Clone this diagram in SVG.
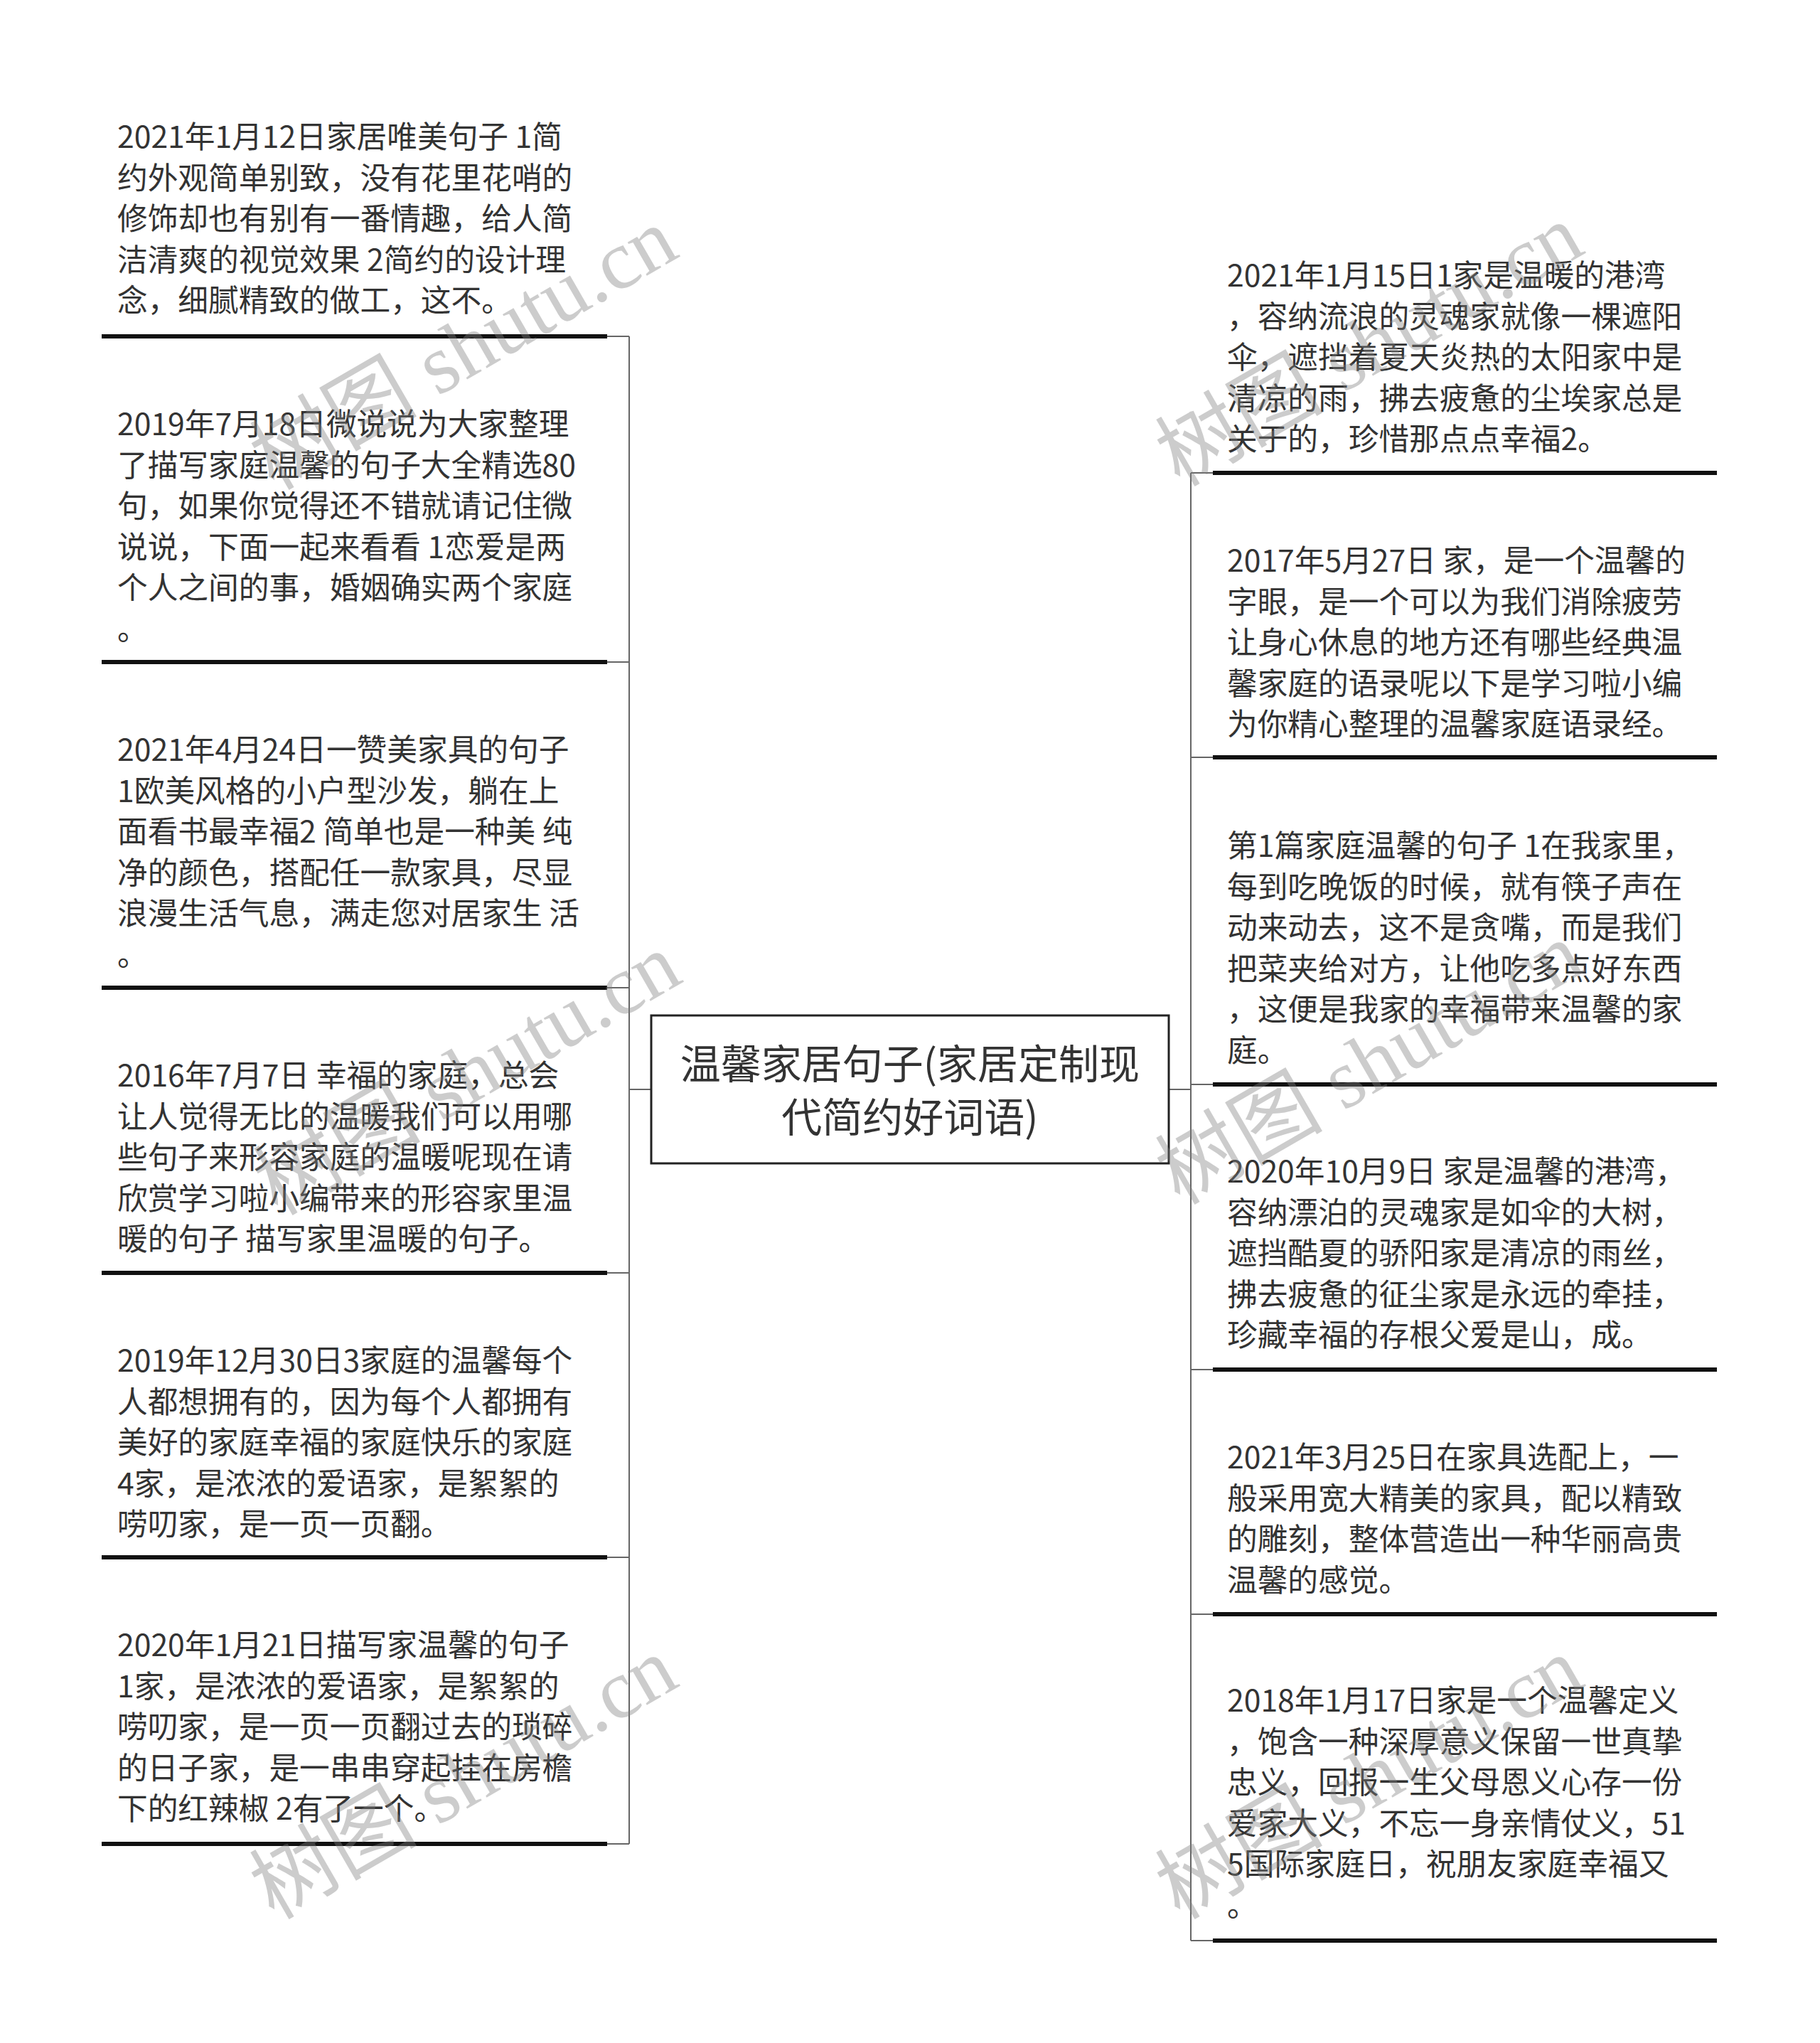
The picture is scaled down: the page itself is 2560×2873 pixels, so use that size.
<svg xmlns="http://www.w3.org/2000/svg" width="2560" height="2873" viewBox="0 0 2560 2873">
<style>
.t{font-family:"Noto Sans CJK SC","Noto Sans",sans-serif;font-size:42.7px;fill:#333}
.c{font-family:"Noto Sans CJK SC","Noto Sans",sans-serif;font-size:57px;fill:#333;text-anchor:middle}
.ul{stroke:#111;stroke-width:6;fill:none}
.ln{stroke:#666;stroke-width:2;fill:none}
.wm{font-family:"Liberation Serif","Noto Sans CJK SC",serif;font-size:118px;fill:#808080;fill-opacity:0.4;text-anchor:middle}
</style>
<rect width="2560" height="2873" fill="#fff"/>
<g id="connectors">
<path class="ln" d="M885 473V2593M854 473H885M854 931H885M854 1389H885M854 1790H885M854 2190H885M854 2593H885M885 1532H916"/>
<path class="ln" d="M1675 665V2729M1675 665H1706M1675 1065H1706M1675 1525H1706M1675 1926H1706M1675 2270H1706M1675 2729H1706M1644 1532H1675"/>
</g>
<g id="center">
<rect x="916" y="1428" width="728" height="208" fill="#fff" stroke="#222" stroke-width="3"/>
<text class="c" x="1280" y="1517">温馨家居句子(家居定制现</text>
<text class="c" x="1280" y="1592">代简约好词语)</text>
</g>
<g id="L1">
<text class="t" x="165" y="208"><tspan x="165">2021年1月12日家居唯美句子 1简</tspan><tspan x="165" dy="57.5">约外观简单别致，没有花里花哨的</tspan><tspan x="165" dy="57.5">修饰却也有别有一番情趣，给人简</tspan><tspan x="165" dy="57.5">洁清爽的视觉效果 2简约的设计理</tspan><tspan x="165" dy="57.5">念，细腻精致的做工，这不。</tspan></text>
<line class="ul" x1="143" y1="473" x2="854" y2="473"/>
</g>
<g id="L2">
<text class="t" x="165" y="612"><tspan x="165">2019年7月18日微说说为大家整理</tspan><tspan x="165" dy="57.5">了描写家庭温馨的句子大全精选80</tspan><tspan x="165" dy="57.5">句，如果你觉得还不错就请记住微</tspan><tspan x="165" dy="57.5">说说，下面一起来看看 1恋爱是两</tspan><tspan x="165" dy="57.5">个人之间的事，婚姻确实两个家庭</tspan><tspan x="165" dy="57.5">。</tspan></text>
<line class="ul" x1="143" y1="931" x2="854" y2="931"/>
</g>
<g id="L3">
<text class="t" x="165" y="1070"><tspan x="165">2021年4月24日一赞美家具的句子</tspan><tspan x="165" dy="57.5">1欧美风格的小户型沙发，躺在上</tspan><tspan x="165" dy="57.5">面看书最幸福2 简单也是一种美 纯</tspan><tspan x="165" dy="57.5">净的颜色，搭配任一款家具，尽显</tspan><tspan x="165" dy="57.5">浪漫生活气息，满走您对居家生 活</tspan><tspan x="165" dy="57.5">。</tspan></text>
<line class="ul" x1="143" y1="1389" x2="854" y2="1389"/>
</g>
<g id="L4">
<text class="t" x="165" y="1528"><tspan x="165">2016年7月7日 幸福的家庭，总会</tspan><tspan x="165" dy="57.5">让人觉得无比的温暖我们可以用哪</tspan><tspan x="165" dy="57.5">些句子来形容家庭的温暖呢现在请</tspan><tspan x="165" dy="57.5">欣赏学习啦小编带来的形容家里温</tspan><tspan x="165" dy="57.5">暖的句子 描写家里温暖的句子。</tspan></text>
<line class="ul" x1="143" y1="1790" x2="854" y2="1790"/>
</g>
<g id="L5">
<text class="t" x="165" y="1929"><tspan x="165">2019年12月30日3家庭的温馨每个</tspan><tspan x="165" dy="57.5">人都想拥有的，因为每个人都拥有</tspan><tspan x="165" dy="57.5">美好的家庭幸福的家庭快乐的家庭</tspan><tspan x="165" dy="57.5">4家，是浓浓的爱语家，是絮絮的</tspan><tspan x="165" dy="57.5">唠叨家，是一页一页翻。</tspan></text>
<line class="ul" x1="143" y1="2190" x2="854" y2="2190"/>
</g>
<g id="L6">
<text class="t" x="165" y="2329"><tspan x="165">2020年1月21日描写家温馨的句子</tspan><tspan x="165" dy="57.5">1家，是浓浓的爱语家，是絮絮的</tspan><tspan x="165" dy="57.5">唠叨家，是一页一页翻过去的琐碎</tspan><tspan x="165" dy="57.5">的日子家，是一串串穿起挂在房檐</tspan><tspan x="165" dy="57.5">下的红辣椒 2有了一个。</tspan></text>
<line class="ul" x1="143" y1="2593" x2="854" y2="2593"/>
</g>
<g id="R1">
<text class="t" x="1726" y="403"><tspan x="1726">2021年1月15日1家是温暖的港湾</tspan><tspan x="1726" dy="57.5">，容纳流浪的灵魂家就像一棵遮阳</tspan><tspan x="1726" dy="57.5">伞，遮挡着夏天炎热的太阳家中是</tspan><tspan x="1726" dy="57.5">清凉的雨，拂去疲惫的尘埃家总是</tspan><tspan x="1726" dy="57.5">关于的，珍惜那点点幸福2。</tspan></text>
<line class="ul" x1="1706" y1="665" x2="2415" y2="665"/>
</g>
<g id="R2">
<text class="t" x="1726" y="804"><tspan x="1726">2017年5月27日 家，是一个温馨的</tspan><tspan x="1726" dy="57.5">字眼，是一个可以为我们消除疲劳</tspan><tspan x="1726" dy="57.5">让身心休息的地方还有哪些经典温</tspan><tspan x="1726" dy="57.5">馨家庭的语录呢以下是学习啦小编</tspan><tspan x="1726" dy="57.5">为你精心整理的温馨家庭语录经。</tspan></text>
<line class="ul" x1="1706" y1="1065" x2="2415" y2="1065"/>
</g>
<g id="R3">
<text class="t" x="1726" y="1205"><tspan x="1726">第1篇家庭温馨的句子 1在我家里，</tspan><tspan x="1726" dy="57.5">每到吃晚饭的时候，就有筷子声在</tspan><tspan x="1726" dy="57.5">动来动去，这不是贪嘴，而是我们</tspan><tspan x="1726" dy="57.5">把菜夹给对方，让他吃多点好东西</tspan><tspan x="1726" dy="57.5">，这便是我家的幸福带来温馨的家</tspan><tspan x="1726" dy="57.5">庭。</tspan></text>
<line class="ul" x1="1706" y1="1525" x2="2415" y2="1525"/>
</g>
<g id="R4">
<text class="t" x="1726" y="1663"><tspan x="1726">2020年10月9日 家是温馨的港湾，</tspan><tspan x="1726" dy="57.5">容纳漂泊的灵魂家是如伞的大树，</tspan><tspan x="1726" dy="57.5">遮挡酷夏的骄阳家是清凉的雨丝，</tspan><tspan x="1726" dy="57.5">拂去疲惫的征尘家是永远的牵挂，</tspan><tspan x="1726" dy="57.5">珍藏幸福的存根父爱是山，成。</tspan></text>
<line class="ul" x1="1706" y1="1926" x2="2415" y2="1926"/>
</g>
<g id="R5">
<text class="t" x="1726" y="2065"><tspan x="1726">2021年3月25日在家具选配上，一</tspan><tspan x="1726" dy="57.5">般采用宽大精美的家具，配以精致</tspan><tspan x="1726" dy="57.5">的雕刻，整体营造出一种华丽高贵</tspan><tspan x="1726" dy="57.5">温馨的感觉。</tspan></text>
<line class="ul" x1="1706" y1="2270" x2="2415" y2="2270"/>
</g>
<g id="R6">
<text class="t" x="1726" y="2407"><tspan x="1726">2018年1月17日家是一个温馨定义</tspan><tspan x="1726" dy="57.5">，饱含一种深厚意义保留一世真挚</tspan><tspan x="1726" dy="57.5">忠义，回报一生父母恩义心存一份</tspan><tspan x="1726" dy="57.5">爱家大义，不忘一身亲情仗义，51</tspan><tspan x="1726" dy="57.5">5国际家庭日，祝朋友家庭幸福又</tspan><tspan x="1726" dy="57.5">。</tspan></text>
<line class="ul" x1="1706" y1="2729" x2="2415" y2="2729"/>
</g>
<g id="watermarks">
<text class="wm" transform="translate(672 525) rotate(-30)">树图 shutu.cn</text>
<text class="wm" transform="translate(1946 520) rotate(-30)">树图 shutu.cn</text>
<text class="wm" transform="translate(677 1545) rotate(-30)">树图 shutu.cn</text>
<text class="wm" transform="translate(1946 1530) rotate(-30)">树图 shutu.cn</text>
<text class="wm" transform="translate(672 2535) rotate(-30)">树图 shutu.cn</text>
<text class="wm" transform="translate(1946 2535) rotate(-30)">树图 shutu.cn</text>
</g>
</svg>
